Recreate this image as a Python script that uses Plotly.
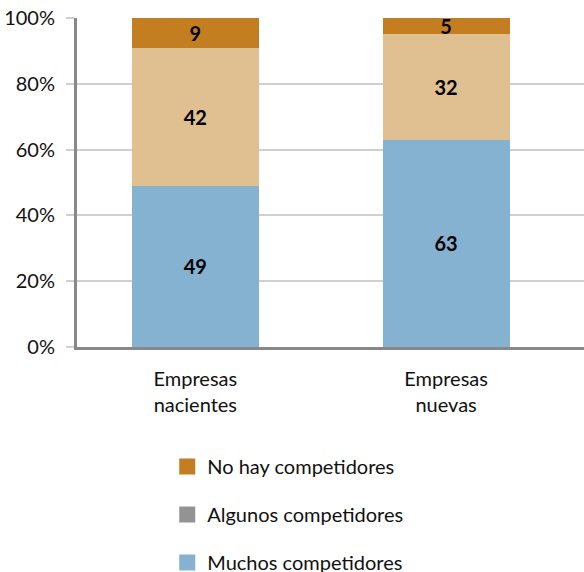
import plotly.graph_objects as go

categories = ["Empresas<br>nacientes", "Empresas<br>nuevas"]
muchos = [49, 63]
algunos = [42, 32]
no_hay = [9, 5]

series_names = ["No hay competidores", "Algunos competidores", "Muchos competidores"]
legend_colors = ["#C47E22", "#939393", "#86B2D1"]

y_ticks = [0, 20, 40, 60, 80, 100]
y_tick_labels = ["0%", "20%", "40%", "60%", "80%", "100%"]

font_family = "Lato, 'Open Sans', sans-serif"

fig = go.Figure()

# stacked bars (bottom to top)
for vals, color in [(muchos, "#86B2D1"), (algunos, "#E0BF91"), (no_hay, "#C47E22")]:
    fig.add_trace(go.Bar(
        x=categories, y=vals, text=vals,
        marker=dict(color=color, line=dict(width=0)),
        textposition="inside", insidetextanchor="middle", constraintext="none",
        textangle=0,
        textfont=dict(family=font_family, size=20, color="black", weight="bold"),
        showlegend=False, width=0.506, hoverinfo="skip",
    ))

# legend entries (the reference shows grey for "Algunos")
for i, (name, color) in enumerate(zip(series_names, legend_colors)):
    fig.add_trace(go.Scatter(
        x=[None], y=[None], mode="markers", name=name,
        marker=dict(symbol="square", size=17, color=color),
        legendgroup=str(i),
    ))

fig.update_layout(
    barmode="stack",
    width=584, height=572,
    margin=dict(l=77, r=0, t=18, b=225, autoexpand=False),
    plot_bgcolor="white", paper_bgcolor="white",
    font=dict(family=font_family, size=20, color="#111111"),
    xaxis=dict(range=[-0.472, 1.55], showgrid=False, showline=True, linecolor="#888888",
               linewidth=3, ticks="outside", ticklen=12, tickcolor="rgba(0,0,0,0)",
               tickfont=dict(size=20), fixedrange=True, automargin=False),
    yaxis=dict(range=[0, 100], tickvals=y_ticks, ticktext=y_tick_labels,
               showgrid=True, gridcolor="#D0D0D0", gridwidth=1.5,
               ticks="outside", ticklen=8, tickcolor="#D0D0D0", tickwidth=1.5,
               showline=True, linecolor="#888888", linewidth=3, ticklabelstandoff=7,
               tickfont=dict(size=20), zeroline=False, automargin=False),
    legend=dict(x=0.178, y=-0.304, xanchor="left", yanchor="top", orientation="v",
                tracegroupgap=19, font=dict(size=20), itemwidth=30),
)

fig.write_html("out.html", config={"displayModeBar": False},
               post_script="document.body.style.margin='0';")
